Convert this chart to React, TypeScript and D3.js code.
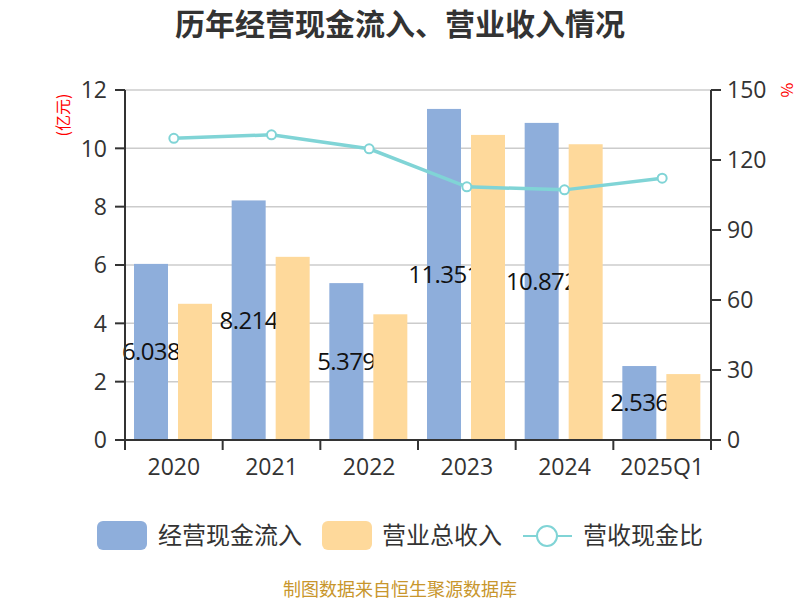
import { useRef, useEffect } from "react";
import * as d3 from "d3";

const categories = ["2020", "2021", "2022", "2023", "2024", "2025Q1"];
const cashInflow = [6.038, 8.214, 5.379, 11.351, 10.872, 2.536];
const revenue = [4.67, 6.28, 4.31, 10.46, 10.14, 2.26];
const ratio = [129.3, 130.8, 124.8, 108.5, 107.2, 112.2];
const leftTicks = [0, 2, 4, 6, 8, 10, 12];
const rightTicks = [0, 30, 60, 90, 120, 150];

const BLUE = "#8eaedb";
const ORANGE = "#fed99b";
const LINE = "#80d4d6";
const FONT = "'Noto Sans CJK SC', 'Noto Sans', sans-serif";
const NUM_FONT = "'Open Sans', 'Noto Sans', sans-serif";

export default function App() {
  const svgRef = useRef<SVGSVGElement>(null);

  useEffect(() => {
    document.body.style.margin = "0";
    if (!svgRef.current) return;
    const W = 800;
    const H = 600;
    const margin = { top: 90, right: 89, bottom: 160, left: 125 };
    const chartW = W - margin.left - margin.right;
    const chartH = H - margin.top - margin.bottom;

    const svg = d3.select(svgRef.current);
    svg.selectAll("*").remove();
    svg.attr("width", W).attr("height", H).style("font-family", FONT);

    // Title
    svg.append("text")
      .attr("x", W / 2).attr("y", 35)
      .attr("text-anchor", "middle")
      .style("font-size", "30px").style("font-weight", "bold").style("fill", "#333")
      .text("历年经营现金流入、营业收入情况");

    const g = svg.append("g").attr("transform", `translate(${margin.left},${margin.top})`);

    const x = d3.scaleBand().domain(categories).range([0, chartW]);
    const y = d3.scaleLinear().domain([0, 12]).range([chartH, 0]);
    const yR = d3.scaleLinear().domain([0, 150]).range([chartH, 0]);

    const bw = 34;
    const off1 = 9;
    const off2 = 53;

    // Grid
    g.append("g")
      .selectAll("line")
      .data(leftTicks.filter((d) => d > 0))
      .join("line")
      .attr("x1", 0).attr("x2", chartW)
      .attr("y1", (d) => y(d)).attr("y2", (d) => y(d))
      .attr("stroke", "#cccccc").attr("stroke-width", 1.5);

    // Blue bars
    g.append("g")
      .selectAll("rect")
      .data(cashInflow)
      .join("rect")
      .attr("x", (_, i) => (x(categories[i]) || 0) + off1)
      .attr("y", (d) => y(d))
      .attr("width", bw)
      .attr("height", (d) => chartH - y(d))
      .attr("fill", BLUE);

    // Value labels (drawn behind orange bars)
    g.append("g")
      .selectAll("text")
      .data(cashInflow)
      .join("text")
      .attr("x", (_, i) => (x(categories[i]) || 0) + off1 + bw / 2)
      .attr("y", (d) => (y(d) + chartH) / 2)
      .attr("dy", "0.35em")
      .attr("text-anchor", "middle")
      .style("font-family", NUM_FONT)
      .style("font-size", "24px").style("fill", "#111")
      .style("letter-spacing", "-0.6px")
      .text((d) => d.toFixed(3));

    // Orange bars
    g.append("g")
      .selectAll("rect")
      .data(revenue)
      .join("rect")
      .attr("x", (_, i) => (x(categories[i]) || 0) + off2)
      .attr("y", (d) => y(d))
      .attr("width", bw)
      .attr("height", (d) => chartH - y(d))
      .attr("fill", ORANGE);

    // Axes
    const axisColor = "#333";
    g.append("line").attr("x1", 0).attr("x2", 0).attr("y1", 0).attr("y2", chartH)
      .attr("stroke", axisColor).attr("stroke-width", 2);
    g.append("line").attr("x1", chartW).attr("x2", chartW).attr("y1", 0).attr("y2", chartH)
      .attr("stroke", axisColor).attr("stroke-width", 2);
    g.append("line").attr("x1", 0).attr("x2", chartW).attr("y1", chartH).attr("y2", chartH)
      .attr("stroke", axisColor).attr("stroke-width", 2);

    // Left ticks
    const lt = g.append("g").selectAll("g").data(leftTicks).join("g")
      .attr("transform", (d) => `translate(0,${y(d)})`);
    lt.append("line").attr("x1", -10).attr("x2", 0).attr("stroke", axisColor).attr("stroke-width", 2);
    lt.append("text").attr("x", -18).attr("dy", "0.36em").attr("text-anchor", "end")
      .style("font-family", NUM_FONT)
      .style("font-size", "23px").style("fill", "#333").text((d) => d);

    // Right ticks
    const rt = g.append("g").selectAll("g").data(rightTicks).join("g")
      .attr("transform", (d) => `translate(${chartW},${yR(d)})`);
    rt.append("line").attr("x1", 0).attr("x2", 10).attr("stroke", axisColor).attr("stroke-width", 2);
    rt.append("text").attr("x", 16).attr("dy", "0.36em").attr("text-anchor", "start")
      .style("font-family", NUM_FONT)
      .style("font-size", "23px").style("fill", "#333").text((d) => d);

    // Bottom ticks
    const bt = [...categories.map((c) => x(c) || 0), chartW];
    g.append("g").selectAll("line").data(bt).join("line")
      .attr("x1", (d) => d).attr("x2", (d) => d)
      .attr("y1", chartH).attr("y2", chartH + 10)
      .attr("stroke", axisColor).attr("stroke-width", 2);
    g.append("g").selectAll("text").data(categories).join("text")
      .attr("x", (d) => (x(d) || 0) + x.bandwidth() / 2)
      .attr("y", chartH + 35)
      .attr("text-anchor", "middle")
      .style("font-family", NUM_FONT)
      .style("font-size", "23px").style("fill", "#333")
      .text((d) => d);

    // Axis unit labels
    svg.append("text")
      .attr("transform", `translate(69,115) rotate(-90)`)
      .attr("text-anchor", "middle")
      .style("font-size", "16px").style("fill", "#ff0000")
      .text("(亿元)");
    svg.append("text")
      .attr("transform", `translate(781,90) rotate(90)`)
      .attr("text-anchor", "middle")
      .style("font-size", "16px").style("fill", "#ff0000")
      .text("%");

    // Ratio line
    const cx = (i: number) => (x(categories[i]) || 0) + x.bandwidth() / 2;
    const line = d3.line<number>().x((_, i) => cx(i)).y((d) => yR(d));
    g.append("path").datum(ratio).attr("d", line)
      .attr("fill", "none").attr("stroke", LINE).attr("stroke-width", 3.5);
    g.append("g").selectAll("circle").data(ratio).join("circle")
      .attr("cx", (_, i) => cx(i)).attr("cy", (d) => yR(d)).attr("r", 4.5)
      .attr("fill", "#fff").attr("stroke", LINE).attr("stroke-width", 2);

    // Legend
    const legend = svg.append("g");
    legend.append("rect").attr("x", 97).attr("y", 521).attr("width", 50).attr("height", 29).attr("rx", 6).attr("fill", BLUE);
    legend.append("text").attr("x", 158).attr("y", 536).attr("dy", "0.35em")
      .style("font-size", "24px").style("fill", "#333").text("经营现金流入");
    legend.append("rect").attr("x", 322).attr("y", 521).attr("width", 50).attr("height", 29).attr("rx", 6).attr("fill", ORANGE);
    legend.append("text").attr("x", 382).attr("y", 536).attr("dy", "0.35em")
      .style("font-size", "24px").style("fill", "#333").text("营业总收入");
    legend.append("line").attr("x1", 523).attr("x2", 572).attr("y1", 536).attr("y2", 536)
      .attr("stroke", LINE).attr("stroke-width", 2);
    legend.append("circle").attr("cx", 547).attr("cy", 536).attr("r", 10)
      .attr("fill", "#fff").attr("stroke", LINE).attr("stroke-width", 2);
    legend.append("text").attr("x", 583).attr("y", 536).attr("dy", "0.35em")
      .style("font-size", "24px").style("fill", "#333").text("营收现金比");

    // Footer
    svg.append("text")
      .attr("x", W / 2).attr("y", 596)
      .attr("text-anchor", "middle")
      .style("font-size", "18px").style("fill", "#c8962c")
      .text("制图数据来自恒生聚源数据库");
  }, []);

  return <svg ref={svgRef} style={{ display: "block" }} />;
}
